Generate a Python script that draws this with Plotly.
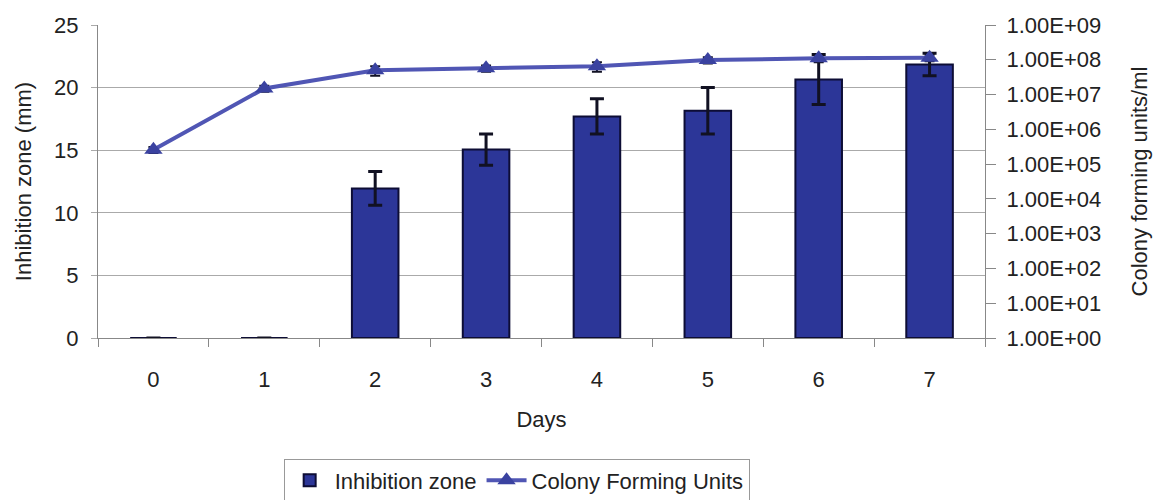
import plotly.graph_objects as go

days = ["0", "1", "2", "3", "4", "5", "6", "7"]
inhibition_zone = [0, 0, 11.95, 15.05, 17.7, 18.15, 20.65, 21.85]
inhibition_err = [0, 0, 1.35, 1.25, 1.4, 1.85, 2.0, 0.9]
cfu = [2.6e5, 1.5e7, 5.0e7, 5.7e7, 6.5e7, 9.8e7, 1.1e8, 1.15e8]
cfu_err = [0.5e5, 0.3e7, 1.5e7, 1.2e7, 2.0e7, 2.0e7, 2.5e7, 2.5e7]
right_tickvals = [1e0, 1e1, 1e2, 1e3, 1e4, 1e5, 1e6, 1e7, 1e8, 1e9]
right_ticktext = ["1.00E+00", "1.00E+01", "1.00E+02", "1.00E+03", "1.00E+04",
                  "1.00E+05", "1.00E+06", "1.00E+07", "1.00E+08", "1.00E+09"]

FONT = "Liberation Sans, Arial, sans-serif"
TXT = "#222222"
FS = 22

fig = go.Figure()
fig.add_trace(go.Bar(
    x=days, y=inhibition_zone, name="Inhibition zone",
    marker=dict(color="rgb(44,54,152)", line=dict(color="#0d0d35", width=2)),
    error_y=dict(type="data", array=inhibition_err, visible=True,
                 color="#111122", thickness=3, width=7),
    yaxis="y",
))
fig.add_trace(go.Scatter(
    x=days, y=cfu, name="Colony Forming Units", mode="lines+markers",
    line=dict(color="rgb(80,86,180)", width=4),
    marker=dict(symbol="triangle-up", size=16, color="rgb(58,66,160)"),
    error_y=dict(type="data", array=cfu_err, visible=True,
                 color="#111122", thickness=2, width=5),
    yaxis="y2",
))

# page body has an 8px margin, so the figure is sized 1153x492 and offset
fig.update_layout(
    width=1153, height=492,
    paper_bgcolor="white", plot_bgcolor="white",
    font=dict(family=FONT, size=FS, color=TXT),
    margin=dict(l=90, r=176, t=17, b=162, autoexpand=False),
    bargap=0.58,
    showlegend=True,
    legend=dict(orientation="h", x=0.472, xanchor="center", y=-0.385, yanchor="top",
                bordercolor="#999999", borderwidth=1, font=dict(size=FS, family=FONT),
                traceorder="normal", itemwidth=40),
    xaxis=dict(
        type="category", automargin=False,
        title=dict(text="Days", font=dict(size=FS), standoff=20),
        showline=True, linecolor="#888888", linewidth=1,
        ticks="outside", tickson="boundaries", ticklen=8, tickcolor="#888888",
        ticklabelstandoff=22,
        tickfont=dict(size=FS), showgrid=False,
    ),
    yaxis=dict(
        range=[0, 25], dtick=5, tick0=0, automargin=False,
        title=dict(text="Inhibition zone (mm)", font=dict(size=FS), standoff=16),
        showline=True, linecolor="#888888", linewidth=1,
        ticks="outside", ticklen=6, tickcolor="#aaaaaa",
        ticklabelstandoff=8,
        showgrid=True, gridcolor="#aaaaaa", gridwidth=1,
        tickfont=dict(size=FS), zeroline=False,
    ),
    yaxis2=dict(
        type="log", range=[0, 9], overlaying="y", side="right", automargin=False,
        tickvals=right_tickvals, ticktext=right_ticktext,
        title=dict(text="Colony forming units/ml", font=dict(size=FS), standoff=31),
        showline=True, linecolor="#888888", linewidth=1,
        ticks="outside", ticklen=10, tickcolor="#888888",
        ticklabelstandoff=6,
        showgrid=False, tickfont=dict(size=FS), zeroline=False,
    ),
)

fig.write_html("out.html")
